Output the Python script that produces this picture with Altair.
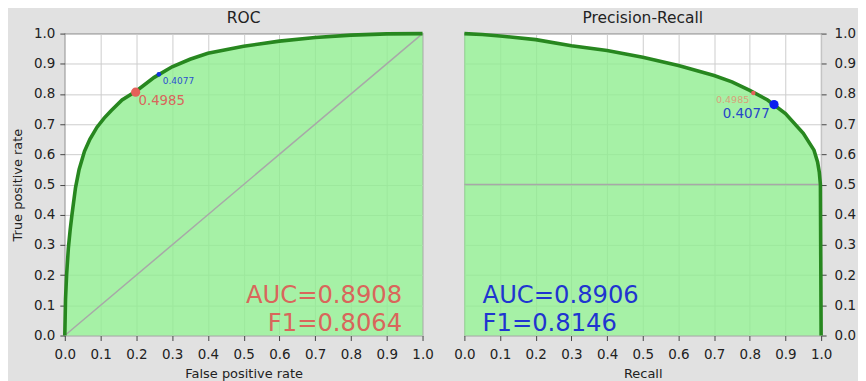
import altair as alt
import pandas as pd

# ROC curve
roc_fpr = [0, 0.002, 0.005, 0.01, 0.015, 0.02, 0.03, 0.04, 0.055, 0.07, 0.09, 0.11, 0.13,
           0.16, 0.2, 0.25, 0.3, 0.35, 0.4, 0.5, 0.6, 0.7, 0.8, 0.9, 1.0]
roc_tpr = [0, 0.12, 0.2, 0.29, 0.35, 0.40, 0.49, 0.55, 0.61, 0.65, 0.69, 0.72, 0.745,
           0.78, 0.81, 0.855, 0.89, 0.915, 0.935, 0.958, 0.975, 0.987, 0.995, 0.999, 1.0]

# Precision-Recall curve
pr_recall = [0, 0.05, 0.1, 0.2, 0.3, 0.4, 0.5, 0.6, 0.7, 0.75, 0.8, 0.85, 0.9, 0.95, 0.98,
             0.99, 0.995, 0.998, 1.0]
pr_precision = [1.0, 0.997, 0.992, 0.98, 0.96, 0.944, 0.922, 0.894, 0.861, 0.84, 0.812,
                0.78, 0.735, 0.67, 0.614, 0.575, 0.54, 0.5, 0.0]

# Threshold markers
roc_pts_x = [0.198, 0.263]
roc_pts_y = [0.806, 0.865]
pr_pts_x = [0.81, 0.868]
pr_pts_y = [0.803, 0.765]
thr_labels = ["0.4985", "0.4077"]

roc_auc_lines = ["AUC=0.8908", "F1=0.8064"]
pr_auc_lines = ["AUC=0.8906", "F1=0.8146"]

RED = "#d9665b"
REDPT = "#e5605a"
BLUE = "#1f35d0"
GREEN = "#27871f"
FILL = "#90ee90"
FONT = "DejaVu Sans"

ticks = [round(i * 0.1, 1) for i in range(11)]


def xenc(title):
    return alt.X("x:Q", scale=alt.Scale(domain=[0, 1], nice=False, zero=False),
                 axis=alt.Axis(title=title, values=ticks, format=".1f", grid=True,
                               labelOverlap=False, labelPadding=7, titlePadding=7))


def yenc(title, orient):
    if orient == "left":
        ax = alt.Axis(title=title, values=ticks, format=".1f", orient="left", grid=True,
                      labelOverlap=False, labelPadding=5, titlePadding=9)
    else:
        ax = alt.Axis(title=None, values=ticks, format=".1f", orient="right", grid=True,
                      labelOverlap=False, labelPadding=8)
    return alt.Y("y:Q", scale=alt.Scale(domain=[0, 1], nice=False, zero=False), axis=ax)


def layer_panel(df, ref_df, xt, yt, orient, pts, txts, w, title):
    X = xenc(xt)
    Y = yenc(yt, orient)
    layers = [
        alt.Chart(df).mark_area(color=FILL, opacity=0.8).encode(x=X, y=Y),
        alt.Chart(ref_df).mark_line(color="#a8a8a8", strokeWidth=1.5).encode(x=X, y=Y),
        alt.Chart(df).mark_line(color=GREEN, strokeWidth=3.6).encode(x=X, y=Y, order="i:Q"),
    ]
    for (px, py, col, size) in pts:
        layers.append(alt.Chart(pd.DataFrame({"x": [px], "y": [py]})).mark_circle(
            color=col, size=size, opacity=1).encode(x=X, y=Y))
    for (tx, ty, labels, col, fs, al) in txts:
        layers.append(alt.Chart(pd.DataFrame({"x": tx, "y": ty, "t": labels})).mark_text(
            color=col, fontSize=fs, align=al, baseline="alphabetic", font=FONT).encode(
            x=X, y=Y, text="t:N"))
    return alt.layer(*layers).properties(
        width=w, height=303, title=alt.TitleParams(title, offset=0))


roc_df = pd.DataFrame({"x": roc_fpr, "y": roc_tpr, "i": range(len(roc_fpr))})
pr_df = pd.DataFrame({"x": pr_recall, "y": pr_precision, "i": range(len(pr_recall))})

left = layer_panel(
    roc_df, pd.DataFrame({"x": [0, 1], "y": [0, 1]}),
    "False positive rate", "True positive rate", "left",
    [(roc_pts_x[0], roc_pts_y[0], REDPT, 85), (roc_pts_x[1], roc_pts_y[1], "#1030e0", 22)],
    [([0.206], [0.762], [thr_labels[0]], RED, 13.3, "left"),
     ([0.274], [0.834], [thr_labels[1]], "#2a4fd0", 9, "left"),
     ([0.943, 0.943], [0.108, 0.014], roc_auc_lines, RED, 24.3, "right")],
    359, "ROC")

right = layer_panel(
    pr_df, pd.DataFrame({"x": [0, 1], "y": [0.5, 0.5]}),
    "Recall", "Precision", "right",
    [(pr_pts_x[0], pr_pts_y[0], REDPT, 20), (pr_pts_x[1], pr_pts_y[1], "#0a1ef0", 85)],
    [([0.705], [0.77], [thr_labels[0]], "#d8a27a", 9.6, "left"),
     ([0.724], [0.72], [thr_labels[1]], "#2545c8", 13.5, "left"),
     ([0.051, 0.051], [0.108, 0.014], pr_auc_lines, BLUE, 24.3, "left")],
    358, "Precision-Recall")

chart = alt.hconcat(left, right, spacing=42, bounds="flush").properties(
    background="#e1e1e1",
    padding={"left": 2, "top": 1, "right": 1, "bottom": 8},
).configure_view(
    fill="white", stroke="#8a8a8a", strokeWidth=1.2
).configure_axis(
    gridColor="#cdcdcd", gridWidth=1, gridOpacity=1, domain=False,
    tickColor="#444444", tickSize=5, tickWidth=1,
    labelFont=FONT, labelFontSize=13.5, labelColor="#222222", labelFlush=False,
    titleFont=FONT, titleFontSize=13, titleFontWeight="normal", titleColor="#222222",
).configure_title(
    font=FONT, fontSize=15.5, fontWeight="normal", color="#222222", anchor="middle"
)

chart.save("out.html", embed_options={"renderer": "svg", "actions": False})
